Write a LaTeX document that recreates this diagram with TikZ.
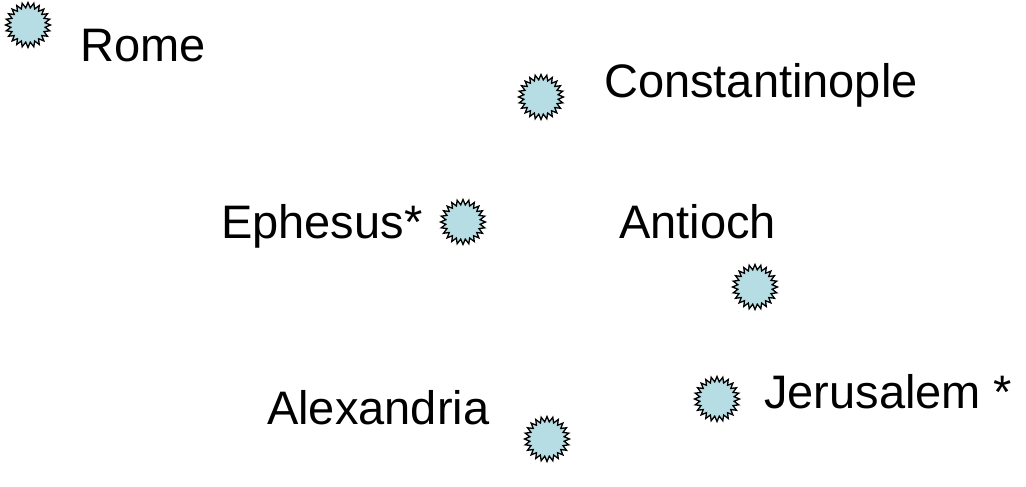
\documentclass[tikz,border=0pt]{standalone}
\usepackage{fontspec}
\setmainfont{Liberation Sans}
\usetikzlibrary{shapes.geometric}
\definecolor{burstfill}{RGB}{183,221,228}
\tikzset{
  burst/.style={star, star points=24, star point ratio=1.3, minimum size=45pt,
    inner sep=0pt, draw=black, line width=1.3pt, fill=burstfill},
  city/.style={anchor=base west, inner sep=0pt, font=\fontsize{47}{56}\selectfont}
}
\begin{document}
\begin{tikzpicture}[x=1pt,y=-1pt]
\useasboundingbox (0,0) rectangle (1026,487);
\node[burst] (sRome) at (28,25) {};
\node[city] (tRome) at (80,62) {Rome};
\node[burst] (sCon) at (541,97) {};
\node[city] (tCon) at (604,98) {Constantinople};
\node[city] (tEph) at (221,238) {Ephesus*};
\node[burst] (sEph) at (463,222) {};
\node[city] (tAnt) at (619,238) {Antioch};
\node[burst] (sAnt) at (755,287) {};
\node[city] (tAle) at (267,424) {Alexandria};
\node[burst] (sAle) at (547,439) {};
\node[city] (tJer) at (764,408) {Jerusalem *};
\node[burst] (sJer) at (717,399) {};
\end{tikzpicture}
\end{document}
